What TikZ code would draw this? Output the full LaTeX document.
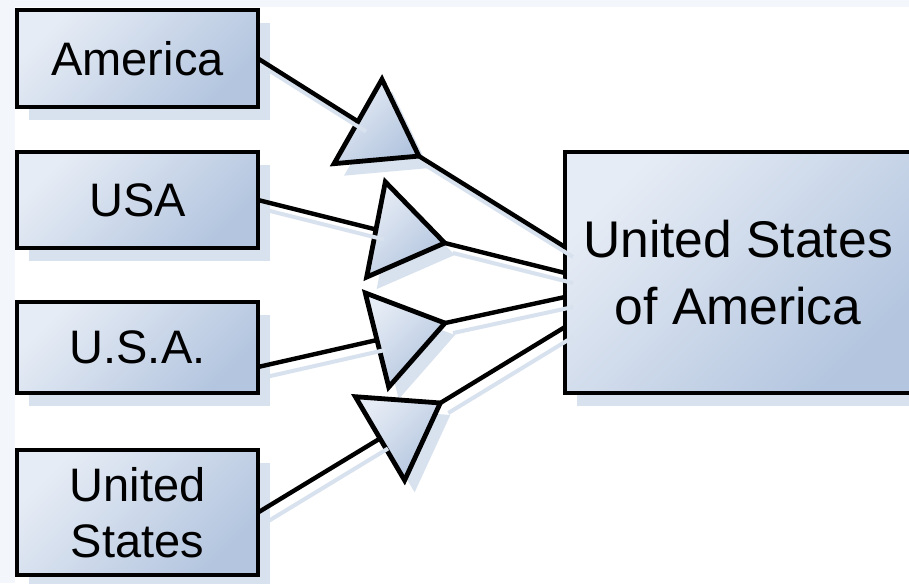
\documentclass[tikz,border=0pt]{standalone}
\usepackage{fontspec}
\setmainfont{Liberation Sans}
\usepackage{tikz}
\usepackage{xcolor}
\usetikzlibrary{shapes.geometric, arrows.meta, positioning, calc, shadows}
\definecolor{PaleSteel}{HTML}{E6ECF5}
\definecolor{SteelBlue}{HTML}{B3C5DF}
\definecolor{ShadowBlue}{HTML}{D8E2EF}
\definecolor{PageTint}{HTML}{F3F6FA}
\newcommand{\leftfont}{\fontsize{23.5}{28}\selectfont}
\newcommand{\rightfont}{\fontsize{25.8}{33.5}\selectfont}

\begin{document}
\begin{tikzpicture}[x=0.5pt, y=-0.5pt,
    termbox/.style={draw=black, line width=2.4pt, rectangle, inner sep=0pt, outer sep=0pt,
        align=center, font=\leftfont, top color=PaleSteel, bottom color=SteelBlue, shading angle=45,
        drop shadow={shadow xshift=6pt, shadow yshift=-6.5pt, fill=ShadowBlue, opacity=1}},
    gate/.style={isosceles triangle, isosceles triangle stretches, minimum width=48.5pt,
        minimum height=35pt, inner sep=0pt, outer sep=0pt, draw=black, line width=2.4pt,
        top color=PaleSteel, bottom color=SteelBlue, shading angle=45,
        drop shadow={shadow xshift=5pt, shadow yshift=-6pt, fill=ShadowBlue, opacity=1}},
    wire/.style={draw=black, line width=2.2pt,
        preaction={draw=ShadowBlue, line width=2pt, transform canvas={xshift=4pt, yshift=-5pt}}}]
    % Page
    \useasboundingbox (0,0) rectangle (909,583);
    \clip (0,0) rectangle (909,583);
    \fill[PageTint] (0,0) rectangle (909,583);
    \fill[white] (15,7) rectangle (909,583);

    % Variants
    \node[termbox, minimum width=120.5pt, minimum height=48.5pt] (america) at (137.5,58.5) {America};
    \node[termbox, minimum width=120.5pt, minimum height=48pt] (usa) at (137.5,200) {USA};
    \node[termbox, minimum width=120.5pt, minimum height=45.5pt] (usadots) at (137.5,347.5) {U.S.A.};
    \node[termbox, minimum width=120.5pt, minimum height=62.5pt] (unitedstates) at (137.5,512.5) {United\\States};

    % Canonical name
    \node[termbox, font=\rightfont, minimum width=173pt, minimum height=120.5pt] (canonical) at (738,272.5) {United States\\of America};

    % Mapping gates
    \node[gate, rotate=-29.6, anchor=lower side] (gateA) at (358,121.5) {};
    \node[gate, rotate=-11.1, anchor=lower side] (gateB) at (376,229.5) {};
    \node[gate, rotate=14, anchor=lower side] (gateC) at (377,340) {};
    \node[gate, rotate=30.5, anchor=lower side] (gateD) at (380,438.5) {};

    % Wires
    \draw[wire] (america.east) -- (gateA.lower side);
    \draw[wire] (usa.east) -- (gateB.lower side);
    \draw[wire] ([yshift=-9.75pt]usadots.east) -- (gateC.lower side);
    \draw[wire] (unitedstates.east) -- (gateD.lower side);
    \draw[wire] (gateA.apex) -- ([yshift=12.75pt]canonical.west);
    \draw[wire] (gateB.apex) -- ([yshift=-0.25pt]canonical.west);
    \draw[wire] (gateC.apex) -- ([yshift=-12.25pt]canonical.west);
    \draw[wire] (gateD.apex) -- ([yshift=-27.25pt]canonical.west);
\end{tikzpicture}
\end{document}
